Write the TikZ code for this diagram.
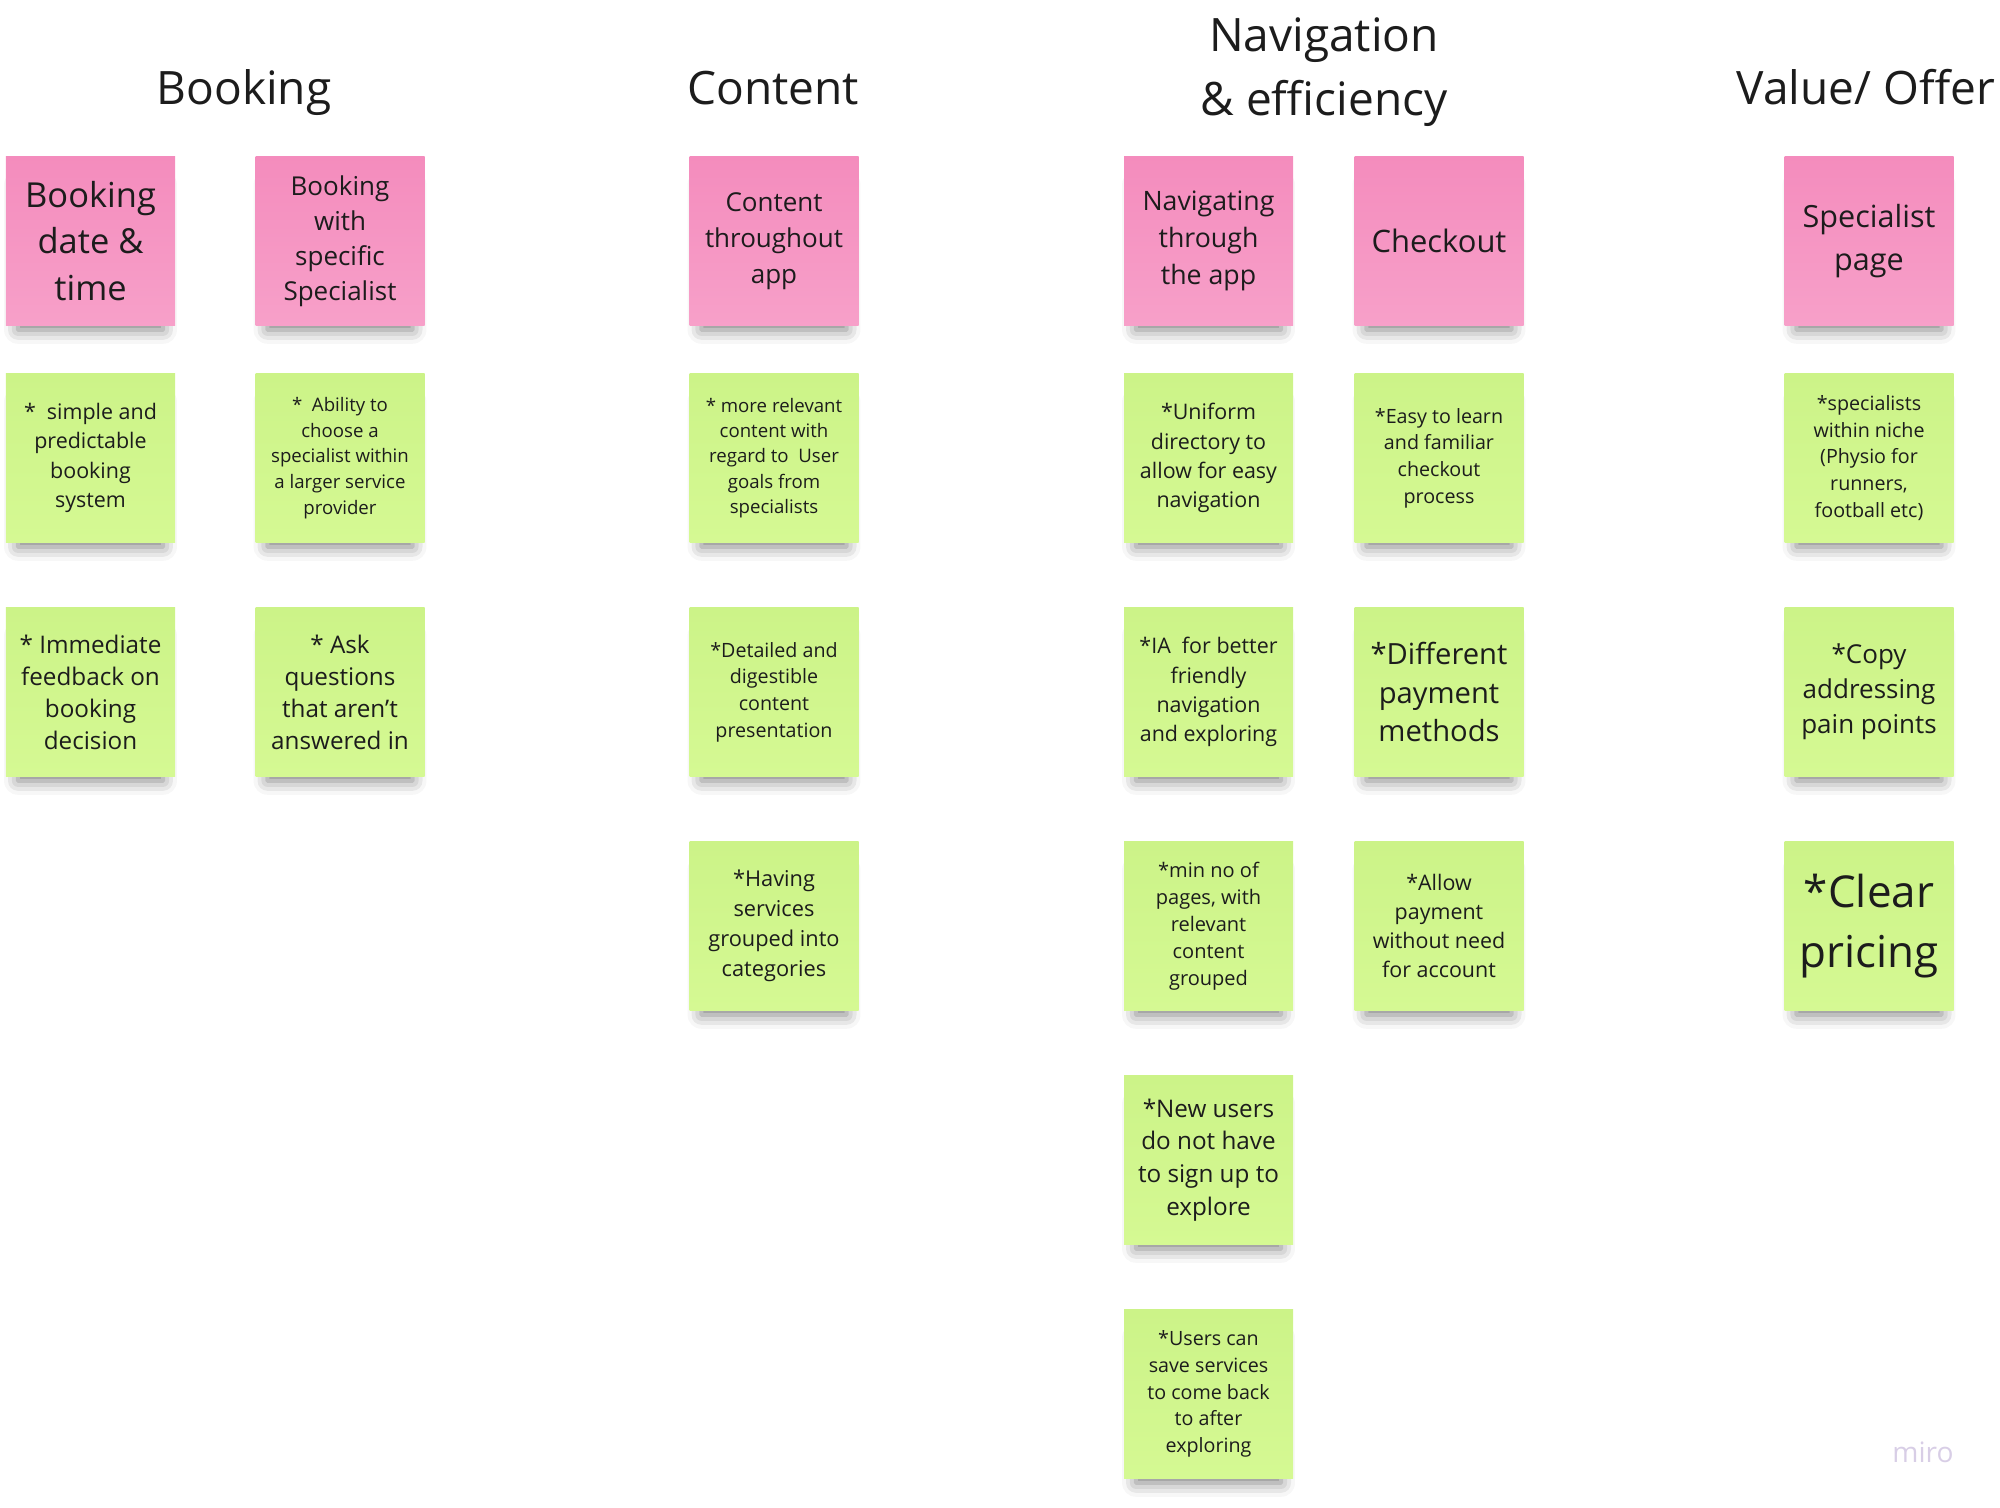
\documentclass[tikz,border=0pt]{standalone}
\usepackage{fontspec}
\setmainfont{Open Sans}
\usepackage{xcolor}
\usepackage{tikz}
\usetikzlibrary{positioning, shadows.blur}

\definecolor{notepink}{RGB}{244,140,189}
\definecolor{notepinklight}{RGB}{247,160,201}
\definecolor{notegreen}{RGB}{204,243,136}
\definecolor{notegreenlight}{RGB}{213,249,147}
\definecolor{inkgrey}{RGB}{28,28,28}
\definecolor{mirogrey}{RGB}{216,206,230}

\newcommand{\notefont}[2]{\fontsize{#1}{#2}\selectfont}

\begin{document}
\begin{tikzpicture}[node distance=2.34cm]
  \tikzstyle{note} = [rectangle, minimum width=1.69cm, minimum height=1.69cm, inner sep=0pt, align=center, text=inkgrey,
    blur shadow={shadow xshift=0pt, shadow yshift=-1.9mm, shadow scale=0.86, shadow opacity=50, shadow blur radius=1.6mm}]
  \tikzstyle{pinknote} = [note, top color=notepink, bottom color=notepinklight]
  \tikzstyle{greennote} = [note, top color=notegreen, bottom color=notegreenlight]
  \tikzstyle{heading} = [anchor=base, text=inkgrey, font=\notefont{13.1}{18.4}, align=center]
  \useasboundingbox (0,0) rectangle (20,-15.08);

  % column titles
  \node[heading] (tbooking) at (2.44,-1.05) {Booking};
  \node[heading] (tcontent) at (7.73,-1.05) {Content};
  \node[heading] (tnav) at (13.24,-1.16) {Navigation\\\& efficiency};
  \node[heading] (tvalue) at (18.66,-1.05) {Value/ Offer};

  % booking
  \node[pinknote, font=\notefont{9.8}{13.2}] (bookdate) at (0.905,-2.41) {Booking\\date \&\\time};
  \node[greennote, below of=bookdate, node distance=2.17cm, font=\notefont{6.1}{8.3}] (simple) {*\ \ simple and\\predictable\\booking\\system};
  \node[greennote, below of=simple, font=\notefont{6.9}{9.1}] (feedback) {* Immediate\\feedback on\\booking\\decision};

  \node[pinknote, font=\notefont{7.4}{10.0}] (bookspec) at (3.40,-2.41) {Booking\\with\\specific\\Specialist};
  \node[greennote, below of=bookspec, node distance=2.17cm, font=\notefont{5.3}{7.3}] (ability) {*\ \ Ability to\\choose a\\specialist within\\a larger service\\provider};
  \node[greennote, below of=ability, font=\notefont{6.9}{9.1}] (askq) {* Ask\\questions\\that aren't\\answered in};

  % content
  \node[pinknote, font=\notefont{7.4}{10.2}] (content) at (7.74,-2.41) {Content\\throughout\\app};
  \node[greennote, below of=content, node distance=2.17cm, font=\notefont{5.3}{7.2}] (relevant) {* more relevant\\content with\\regard to\ \ User\\goals from\\specialists};
  \node[greennote, below of=relevant, font=\notefont{5.6}{7.6}] (detailed) {*Detailed and\\digestible\\content\\presentation};
  \node[greennote, below of=detailed, font=\notefont{6.2}{8.5}] (grouped) {*Having\\services\\grouped into\\categories};

  % navigation
  \node[pinknote, font=\notefont{7.6}{10.5}] (navapp) at (12.085,-2.41) {Navigating\\through\\the app};
  \node[greennote, below of=navapp, node distance=2.17cm, font=\notefont{6.1}{8.3}] (uniform) {*Uniform\\directory to\\allow for easy\\navigation};
  \node[greennote, below of=uniform, font=\notefont{6.1}{8.3}] (ia) {*IA\ \ for better\\friendly\\navigation\\and exploring};
  \node[greennote, below of=ia, font=\notefont{5.7}{7.7}] (minpages) {*min no of\\pages, with\\relevant\\content\\grouped};
  \node[greennote, below of=minpages, font=\notefont{6.9}{9.3}] (newusers) {*New users\\do not have\\to sign up to\\explore};
  \node[greennote, below of=newusers, font=\notefont{5.6}{7.6}] (saveserv) {*Users can\\save services\\to come back\\to after\\exploring};

  \node[pinknote, font=\notefont{8.8}{12}] (checkout) at (14.39,-2.41) {Checkout};
  \node[greennote, below of=checkout, node distance=2.17cm, font=\notefont{5.6}{7.6}] (easy) {*Easy to learn\\and familiar\\checkout\\process};
  \node[greennote, below of=easy, font=\notefont{8.3}{11.0}] (payment) {*Different\\payment\\methods};
  \node[greennote, below of=payment, font=\notefont{6.1}{8.3}] (allow) {*Allow\\payment\\without need\\for account};

  % value
  \node[pinknote, font=\notefont{8.7}{12}] (specpage) at (18.69,-2.41) {Specialist\\page};
  \node[greennote, below of=specpage, node distance=2.17cm, font=\notefont{5.6}{7.6}] (niche) {*specialists\\within niche\\(Physio for\\runners,\\football etc)};
  \node[greennote, below of=niche, font=\notefont{7.4}{10}] (copy) {*Copy\\addressing\\pain points};
  \node[greennote, below of=copy, font=\notefont{12.5}{17}] (pricing) {*Clear\\pricing};

  \node[anchor=base, text=mirogrey, font=\notefont{8}{8}] (miro) at (19.23,-14.62) {miro};
\end{tikzpicture}
\end{document}
